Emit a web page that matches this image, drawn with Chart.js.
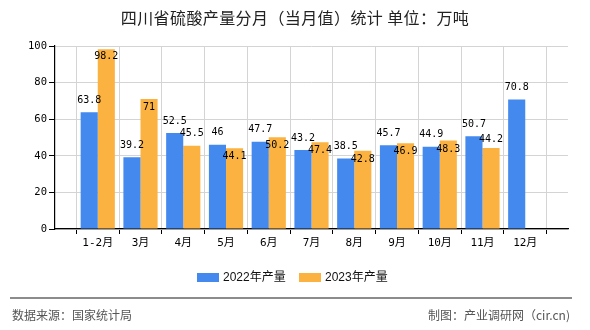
<!DOCTYPE html>
<html>
<head>
<meta charset="utf-8">
<script src="https://cdn.jsdelivr.net/npm/chart.js@4/dist/chart.umd.min.js"></script>
<style>
  html, body { margin: 0; padding: 0; background: #fff; }
  #wrap { position: relative; width: 590px; height: 330px; overflow: hidden; background: #fff; }
  #c { position: absolute; left: 0; top: 0; }
  .txt { position: absolute; white-space: nowrap; font-family: "Noto Sans CJK SC", "DejaVu Sans", sans-serif; }
  #title { left: 0; width: 590px; top: 7px; line-height: 20px; text-align: center; font-size: 16px; color: #222; letter-spacing: 0.4px; }
  #legend { position: absolute; left: 0; top: 270px; width: 590px; height: 16px; }
  .lg-box { position: absolute; top: 3px; width: 22px; height: 9px; }
  .lg-text { position: absolute; top: 0; line-height: 15px; font-size: 12px; color: #111; font-family: "Liberation Sans", "Noto Sans CJK SC", sans-serif; }
  #rule { position: absolute; left: 10px; top: 297px; width: 562px; height: 1.5px; background: #8c8c8c; }
  #src { left: 12px; top: 307px; line-height: 16px; font-size: 12px; color: #555; }
  #by { right: 20px; top: 307px; line-height: 16px; font-size: 12px; color: #555; }
</style>
</head>
<body>
<div id="wrap">
  <canvas id="c" width="590" height="330"></canvas>
  <div id="title" class="txt">四川省硫酸产量分月（当月值）统计 单位：万吨</div>
  <div id="legend"></div>
  <div id="rule"></div>
  <div id="src" class="txt">数据来源：国家统计局</div>
  <div id="by" class="txt">制图：产业调研网（cir.cn)</div>
</div>
<script>
// ---- data ----
const categories = ['1-2月','3月','4月','5月','6月','7月','8月','9月','10月','11月','12月'];
const series2022 = [63.8, 39.2, 52.5, 46, 47.7, 43.2, 38.5, 45.7, 44.9, 50.7, 70.8];
const series2023 = [98.2, 71, 45.5, 44.1, 50.2, 47.4, 42.8, 46.9, 48.3, 44.2, null];
const seriesNames = ['2022年产量', '2023年产量'];
const yTicks = [0, 20, 40, 60, 80, 100];

const colors = ['#4389ee', '#fbb241'];

// padded category axis: an empty slot before and after the months
const labels = [''].concat(categories, ['']);
const pad = arr => [null].concat(arr, [null]);

const monoFont = '"DejaVu Sans Mono", "Noto Sans CJK SC", monospace';

const valueLabels = {
  id: 'valueLabels',
  afterDatasetsDraw(chart) {
    const ctx = chart.ctx;
    const area = chart.chartArea;
    const m0 = chart.getDatasetMeta(0);
    const m1 = chart.getDatasetMeta(1);
    const d0 = chart.data.datasets[0].data;
    const d1 = chart.data.datasets[1].data;
    ctx.save();
    ctx.font = '10px ' + monoFont;
    ctx.fillStyle = '#000';
    ctx.textAlign = 'center';
    ctx.textBaseline = 'middle';
    for (let i = 0; i < labels.length; i++) {
      let blueY = null;
      if (d0[i] != null) {
        const el = m0.data[i];
        blueY = el.y - 12;
        if (blueY - 6 < area.top) blueY = el.y + 8.5;
        ctx.fillText(String(d0[i]), el.x, blueY);
      }
      if (d1[i] != null) {
        const el = m1.data[i];
        let y = el.y - 12;
        if (y - 6 < area.top) {
          y = el.y + 7.5;
        } else if (blueY != null) {
          const diff = y - blueY;
          if (diff >= 12.5) {
            // no overlap
          } else if (diff >= 9) {
            y = blueY + 15;
          } else {
            y = el.y + 8.5;
          }
        }
        ctx.fillText(String(d1[i]), el.x, y);
      }
    }
    ctx.restore();
  }
};

new Chart(document.getElementById('c'), {
  type: 'bar',
  data: {
    labels: labels,
    datasets: [
      { label: seriesNames[0], data: pad(series2022), backgroundColor: colors[0], borderWidth: 0 },
      { label: seriesNames[1], data: pad(series2023), backgroundColor: colors[1], borderWidth: 0 }
    ]
  },
  options: {
    responsive: false,
    animation: false,
    devicePixelRatio: 1,
    layout: { padding: { left: 0, right: 22, top: 46, bottom: 0 } },
    plugins: { legend: { display: false }, title: { display: false }, tooltip: { enabled: false } },
    datasets: { bar: { categoryPercentage: 0.8, barPercentage: 1.0 } },
    scales: {
      x: {
        offset: false,
        grid: { display: true, color: '#d4d4d4', lineWidth: 1, tickColor: '#000', tickLength: 5, drawTicks: true },
        border: { display: true, color: '#000', width: 1.2 },
        ticks: { autoSkip: false, maxRotation: 0, color: '#000', padding: 3, font: { size: 11, family: monoFont } },
        afterFit(s) { s.height = 101; }
      },
      y: {
        min: yTicks[0],
        max: yTicks[yTicks.length - 1],
        afterBuildTicks(s) { s.ticks = yTicks.map(v => ({ value: v })); },
        grid: { display: true, color: '#d4d4d4', lineWidth: 1, tickColor: '#000', tickLength: 6, drawTicks: true },
        border: { display: true, color: '#000', width: 1.2 },
        ticks: { color: '#000', padding: 2, font: { size: 10.5, family: monoFont } },
        afterFit(s) { s.width = 55; }
      }
    }
  },
  plugins: [valueLabels]
});

// HTML legend built from the series
(function () {
  const lg = document.getElementById('legend');
  const boxX = [197, 299];
  seriesNames.forEach((name, i) => {
    const b = document.createElement('div');
    b.className = 'lg-box';
    b.style.left = boxX[i] + 'px';
    b.style.background = colors[i];
    lg.appendChild(b);
    const t = document.createElement('div');
    t.className = 'lg-text';
    t.style.left = (boxX[i] + 26) + 'px';
    t.textContent = name;
    lg.appendChild(t);
  });
})();
</script>
</body>
</html>
